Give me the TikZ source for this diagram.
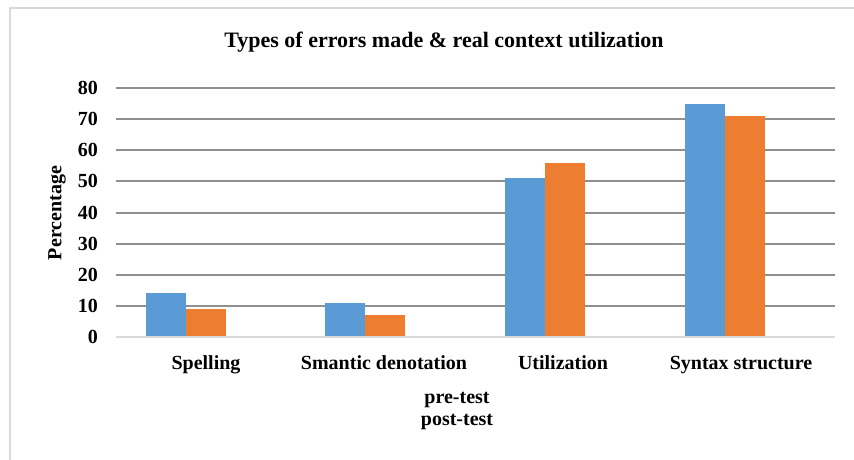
\documentclass[tikz,border=0pt]{standalone}
\usepackage{fontspec}
\setmainfont{Liberation Serif}
\definecolor{preblue}{HTML}{5B9BD5}
\definecolor{postorange}{HTML}{ED7D31}
\definecolor{gridgray}{HTML}{8F8F8F}
\definecolor{axisgray}{HTML}{D9D9D9}
\begin{document}
\begin{tikzpicture}[x=1pt,y=-1pt,
    lbl/.style = {font=\fontsize{20}{22}\selectfont\bfseries, inner sep=0pt},
    tick/.style = {lbl, anchor=east},
    catlbl/.style = {lbl, anchor=base},
    gridline/.style = {gridgray, line width=2pt},
    prebar/.style = {fill=preblue},
    postbar/.style = {fill=postorange}]
    \useasboundingbox (0,0) rectangle (854,460);
    % frame
    \draw[axisgray, line width=2pt] (10,460) -- (10,8) -- (854,8);
    \node[lbl, font=\fontsize{22}{24}\selectfont\bfseries] (title) at (444,42) {Types of errors made \& real context utilization};
    \node[lbl, rotate=90] (ylabel) at (57,213) {Percentage};
    \begin{scope}[shift={(0,337)}, y=3.1125pt]
        % grid
        \draw[gridline] (116,10) -- (835,10);
        \draw[gridline] (116,20) -- (835,20);
        \draw[gridline] (116,30) -- (835,30);
        \draw[gridline] (116,40) -- (835,40);
        \draw[gridline] (116,50) -- (835,50);
        \draw[gridline] (116,60) -- (835,60);
        \draw[gridline] (116,70) -- (835,70);
        \draw[gridline] (116,80) -- (835,80);
        \node[tick] (t0) at (98,0) {0};
        \node[tick] (t10) at (98,10) {10};
        \node[tick] (t20) at (98,20) {20};
        \node[tick] (t30) at (98,30) {30};
        \node[tick] (t40) at (98,40) {40};
        \node[tick] (t50) at (98,50) {50};
        \node[tick] (t60) at (98,60) {60};
        \node[tick] (t70) at (98,70) {70};
        \node[tick] (t80) at (98,80) {80};
        % bars
        \path[prebar] (146,0) rectangle (186,14);
        \path[postbar] (186,0) rectangle (226,9);
        \path[prebar] (325,0) rectangle (365,11);
        \path[postbar] (365,0) rectangle (405,7);
        \path[prebar] (505,0) rectangle (545,51);
        \path[postbar] (545,0) rectangle (585,56);
        \path[prebar] (685,0) rectangle (725,75);
        \path[postbar] (725,0) rectangle (765,71);
        \draw[axisgray, line width=2pt] (116,0) -- (835,0);
    \end{scope}
    \node[catlbl] (spelling) at (206,369) {Spelling};
    \node[catlbl] (smantic) at (384,369) {Smantic denotation};
    \node[catlbl] (utilization) at (563,369) {Utilization};
    \node[catlbl] (syntax) at (741,369) {Syntax structure};
    \node[lbl] (pre) at (457,400) {pre-test};
    \node[lbl] (post) [below of=pre, node distance=22pt] {post-test};
\end{tikzpicture}
\end{document}
